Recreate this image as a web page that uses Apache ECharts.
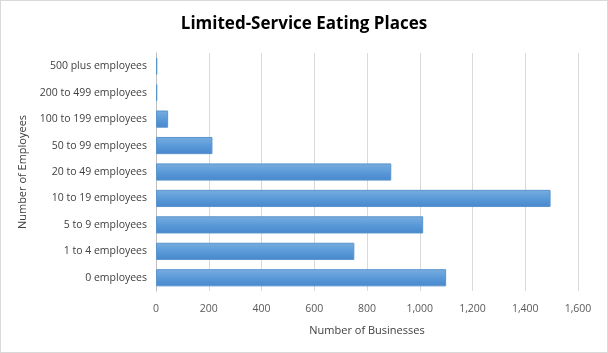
<!DOCTYPE html>
<html>
<head>
<meta charset="utf-8">
<script src="https://cdn.jsdelivr.net/npm/echarts@6/dist/echarts.min.js"></script>
<style>
  html, body { margin: 0; padding: 0; background: #fff; }
  #chart { width: 608px; height: 353px; box-sizing: border-box; border: 1px solid #d9d9d9; }
</style>
</head>
<body>
<div id="chart"></div>
<script>
// Limited-Service Eating Places, businesses by size class
var categories = [
  '0 employees',
  '1 to 4 employees',
  '5 to 9 employees',
  '10 to 19 employees',
  '20 to 49 employees',
  '50 to 99 employees',
  '100 to 199 employees',
  '200 to 499 employees',
  '500 plus employees'
];
var businesses = [1100, 752, 1013, 1496, 892, 214, 46, 5, 5];
var xTicks = [0, 200, 400, 600, 800, 1000, 1200, 1400, 1600];

(function () {
  'use strict';

  var chart = echarts.init(document.getElementById('chart'), null, { renderer: 'canvas' });
  var font = '"Open Sans", "Liberation Sans", sans-serif';

  chart.setOption({
    animation: false,
    backgroundColor: '#fff',
    title: {
      text: 'Limited-Service Eating Places',
      left: 'center',
      top: 10,
      textStyle: { fontFamily: font, fontSize: 17, fontWeight: 'bold', color: '#000' }
    },
    grid: { left: 155, right: 29, top: 52, bottom: 61 },
    xAxis: {
      type: 'value',
      min: xTicks[0],
      max: xTicks[xTicks.length - 1],
      interval: 200,
      name: 'Number of Businesses',
      nameLocation: 'middle',
      nameGap: 34,
      nameTextStyle: { fontFamily: font, fontSize: 11, color: '#404040' },
      axisLine: { show: false },
      axisTick: { show: false },
      axisLabel: {
        fontFamily: font, fontSize: 10.5, color: '#595959', margin: 13,
        formatter: function (v) { return v.toLocaleString('en-US'); }
      },
      splitLine: { lineStyle: { color: '#d9d9d9', width: 1 } }
    },
    yAxis: {
      type: 'category',
      data: categories,
      name: 'Number of Employees',
      nameLocation: 'middle',
      nameRotate: 90,
      nameGap: 116,
      nameTextStyle: { fontFamily: font, fontSize: 11, color: '#404040' },
      axisLine: { show: true, lineStyle: { color: '#bfbfbf' } },
      axisTick: { show: false },
      axisLabel: { fontFamily: font, fontSize: 10.5, color: '#404040', margin: 9 }
    },
    series: [{
      type: 'bar',
      data: businesses,
      barCategoryGap: '35%',
      itemStyle: {
        color: {
          type: 'linear', x: 0, y: 0, x2: 0, y2: 1,
          colorStops: [
            { offset: 0, color: '#78addf' },
            { offset: 0.5, color: '#5b9ad9' },
            { offset: 1, color: '#4787cc' }
          ]
        },
        borderColor: '#5a95cc',
        borderWidth: 1
      }
    }]
  });
})();
</script>
</body>
</html>
